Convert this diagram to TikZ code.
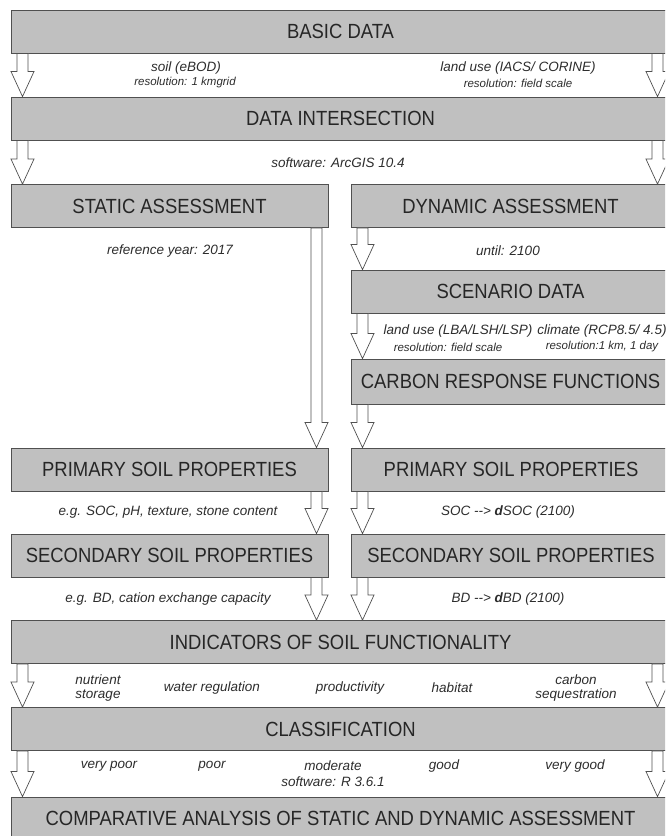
\documentclass[tikz,border=0pt]{standalone}
\usepackage{fontspec}
\setmainfont{Liberation Sans}
\newfontfamily\stagefont[FakeStretch=0.9]{Liberation Sans}
\usetikzlibrary{calc}

\definecolor{boxgray}{RGB}{192,192,192}
\definecolor{edgegray}{RGB}{80,80,80}
\definecolor{labelgray}{RGB}{45,45,45}

\tikzset{
  stage/.style={draw=edgegray, fill=boxgray, line width=0.9pt, minimum height=43pt,
    inner sep=0pt, font=\stagefont\fontsize{20.5}{22}\selectfont, text=black!85},
  widestage/.style={stage, minimum width=659pt},
  leftstage/.style={stage, minimum width=317pt},
  rightstage/.style={stage, minimum width=319pt},
  note/.style={font=\fontsize{13.5}{14}\selectfont\itshape, text=labelgray, align=center, inner sep=0pt},
  subnote/.style={font=\fontsize{11.5}{12}\selectfont\itshape, text=labelgray, inner sep=0pt},
  flow/.style={draw=edgegray, fill=white, line width=0.7pt, line join=miter},
}

% hollow block arrow: x position, from node, to node
\newcommand{\flowarrow}[3]{%
  \draw[flow] let \p1=(#2.south), \p2=(#3.north) in
    ({#1pt-5.5pt},\y1) -- ({#1pt-5.5pt},\y2+25pt) -- ({#1pt-11.5pt},\y2+25pt) -- (#1pt,\y2)
    -- ({#1pt+11.5pt},\y2+25pt) -- ({#1pt+5.5pt},\y2+25pt) -- ({#1pt+5.5pt},\y1) -- cycle;}

\begin{document}
\begin{tikzpicture}[x=1pt,y=-1pt]
  \clip (0,0) rectangle (665,836);
  \fill[white] (0,0) rectangle (665,836);

  % boxes
  \node[widestage] (basic) at (340.5,31.5) {BASIC DATA};
  \node[widestage] (inter) at (340.5,118.5) {DATA INTERSECTION};
  \node[leftstage] (static) at (169.5,206) {STATIC ASSESSMENT};
  \node[rightstage] (dynamic) at (510.5,206) {DYNAMIC ASSESSMENT};
  \node[rightstage] (scenario) at (510.5,291.5) {SCENARIO DATA};
  \node[rightstage, minimum height=45pt] (carbon) at (510.5,381.5) {CARBON RESPONSE FUNCTIONS};
  \node[leftstage] (primL) at (169.5,469.5) {PRIMARY SOIL PROPERTIES};
  \node[rightstage] (primR) at (511,469.5) {PRIMARY SOIL PROPERTIES};
  \node[leftstage] (secL) at (169.5,555.5) {SECONDARY SOIL PROPERTIES};
  \node[rightstage] (secR) at (511,555.5) {SECONDARY SOIL PROPERTIES};
  \node[widestage] (indic) at (340.5,642) {INDICATORS OF SOIL FUNCTIONALITY};
  \node[widestage] (class) at (340.5,729) {CLASSIFICATION};
  \node[widestage] (comp) at (340.5,818.5) {COMPARATIVE ANALYSIS OF STATIC AND DYNAMIC ASSESSMENT};

  % arrows
  \flowarrow{22.5}{basic}{inter}
  \flowarrow{657.5}{basic}{inter}
  \flowarrow{22.5}{inter}{static}
  \flowarrow{657.5}{inter}{dynamic}
  \flowarrow{316.5}{static}{primL}
  \flowarrow{362.5}{dynamic}{scenario}
  \flowarrow{362.5}{scenario}{carbon}
  \flowarrow{362.5}{carbon}{primR}
  \flowarrow{316.5}{primL}{secL}
  \flowarrow{362.5}{primR}{secR}
  \flowarrow{316.5}{secL}{indic}
  \flowarrow{362.5}{secR}{indic}
  \flowarrow{22.5}{indic}{class}
  \flowarrow{657.5}{indic}{class}
  \flowarrow{22.5}{class}{comp}
  \flowarrow{657.5}{class}{comp}

  % labels
  \node[note] (soil) at (186,68) {soil (eBOD)};
  \node[subnote] (soilres) at (185,83) {resolution: 1 kmgrid};
  \node[note] (landuse) at (518,68) {land use (IACS/ CORINE)};
  \node[subnote] (landres) at (518,83) {resolution: field scale};
  \node[note] (arcgis) at (338,163) {software: ArcGIS 10.4};
  \node[note] (refyear) at (170,251) {reference year: 2017};
  \node[note] (until) at (508,251) {until: 2100};
  \node[note] (scenland) at (458,331) {land use (LBA/LSH/LSP)};
  \node[subnote] (scenlandres) at (448,347) {resolution: field scale};
  \node[note] (climate) at (602,331) {climate (RCP8.5/ 4.5)};
  \node[subnote] (climateres) at (602,347) {resolution:1 km, 1 day};
  \node[note] (primex) at (168,512) {e.g. SOC, pH, texture, stone content};
  \node[note] (soc) at (508,512) {SOC {-}{-}> \textbf{d}SOC (2100)};
  \node[note] (secex) at (168,599) {e.g. BD, cation exchange capacity};
  \node[note] (bd) at (508,599) {BD {-}{-}> \textbf{d}BD (2100)};
  \node[note] (nutrient) at (98,688) {nutrient\\storage};
  \node[note] (water) at (212,688) {water regulation};
  \node[note] (product) at (350,688) {productivity};
  \node[note] (habitat) at (452,688) {habitat};
  \node[note] (sequest) at (576,688) {carbon\\sequestration};
  \node[note] (vpoor) at (109,766) {very poor};
  \node[note] (poor) at (212,766) {poor};
  \node[note] (moderate) at (333,766) {moderate};
  \node[note] (good) at (444,766) {good};
  \node[note] (vgood) at (575,766) {very good};
  \node[note] (rsoft) at (333,782) {software: R 3.6.1};
\end{tikzpicture}
\end{document}
